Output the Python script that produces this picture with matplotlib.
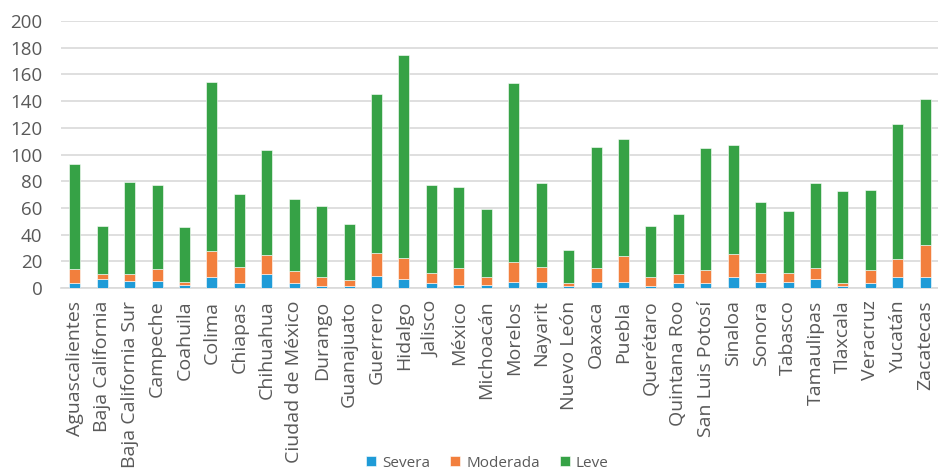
import matplotlib
matplotlib.use("Agg")
import matplotlib.pyplot as plt
import numpy as np

states = ["Aguascalientes", "Baja California", "Baja California Sur", "Campeche", "Coahuila",
          "Colima", "Chiapas", "Chihuahua", "Ciudad de México", "Durango", "Guanajuato",
          "Guerrero", "Hidalgo", "Jalisco", "México", "Michoacán", "Morelos", "Nayarit",
          "Nuevo León", "Oaxaca", "Puebla", "Querétaro", "Quintana Roo", "San Luis Potosí",
          "Sinaloa", "Sonora", "Tabasco", "Tamaulipas", "Tlaxcala", "Veracruz", "Yucatán",
          "Zacatecas"]
# cumulative tops
top_severa = [3.5, 7, 5, 5, 2.5, 8, 3.5, 10.5, 3.5, 1.5, 1.5, 9.25, 7, 3.5, 2.25, 2.25, 4.75,
              4.75, 1.5, 4.75, 4.75, 1.5, 3.5, 3.5, 8.25, 4.75, 4.75, 7, 1.5, 3.5, 8.25, 8.25]
top_moderada = [14, 10.5, 10.5, 14, 4.75, 27.5, 16, 25, 12.5, 8.25, 6, 26.25, 22.75, 11.5, 15,
                8.25, 19.5, 16, 3.5, 15, 24, 8.25, 10.5, 13.75, 25.25, 11.5, 11.5, 15, 3.5,
                13.75, 21.75, 32]
top_leve = [93, 46.5, 79.5, 77, 45.5, 154, 70.5, 103, 67, 61.25, 47.75, 145, 174.5, 77.25, 76,
            59, 153.25, 78.5, 28.75, 105.5, 111.25, 46.5, 55.75, 104.5, 106.75, 64.75, 58,
            78.5, 72.75, 73.75, 122.5, 141.75]

severa = np.array(top_severa)
moderada = np.array(top_moderada) - severa
leve = np.array(top_leve) - np.array(top_moderada)

plt.rcParams['font.family'] = ['Open Sans', 'DejaVu Sans']
gray = '#595959'

fig = plt.figure(figsize=(9.38, 4.73), dpi=100)
ax = fig.add_axes([61/938, 1 - 288/473, (939 - 61)/938, (288 - 21)/473])

x = np.arange(len(states))
w = 0.4
ec = dict(edgecolor='white', linewidth=0.4)
ax.bar(x, severa, w, color='#1f9bd7', label='Severa', zorder=3, **ec)
ax.bar(x, moderada, w, bottom=severa, color='#f27f3d', label='Moderada', zorder=3, **ec)
ax.bar(x, leve, w, bottom=severa + moderada, color='#36a246', label='Leve', zorder=3, **ec)

ax.set_xlim(-0.5, len(states) - 0.5)
ax.set_ylim(0, 200)
ax.set_yticks(range(0, 201, 20))
ax.yaxis.grid(True, color='#d9d9d9', linewidth=1.2, zorder=0)
for s in ['top', 'right', 'left']:
    ax.spines[s].set_visible(False)
ax.spines['bottom'].set_color('#d9d9d9')
ax.spines['bottom'].set_linewidth(1.2)
ax.tick_params(axis='both', length=0, colors=gray)
ax.tick_params(axis='y', pad=13.5, labelsize=13.5)
ax.tick_params(axis='x', pad=9)
ax.set_xticks(x)
ax.set_xticklabels(states, rotation=90, fontsize=14, color=gray)

leg = fig.legend(loc='center', bbox_to_anchor=(487.5/938, 1 - 463/473), ncol=3, frameon=False,
                 fontsize=11, handlelength=0.65, handleheight=0.65, handletextpad=0.4,
                 columnspacing=1.3)
for t in leg.get_texts():
    t.set_color(gray)

fig.savefig('out.png', dpi=100)
